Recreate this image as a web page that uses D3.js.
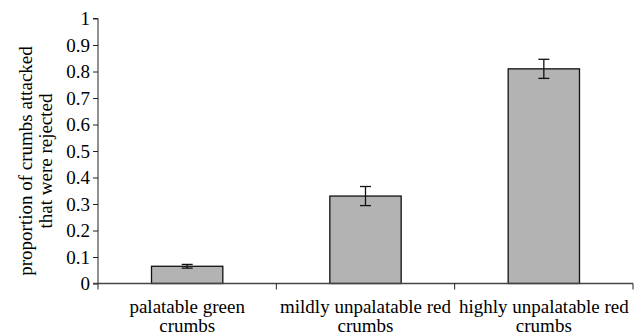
<!DOCTYPE html>
<html>
<head>
<meta charset="utf-8">
<script src="https://cdnjs.cloudflare.com/ajax/libs/d3/7.8.5/d3.min.js"></script>
<style>
body { margin: 0; background: #fff; }
#vis { width: 642px; height: 336px; }
</style>
</head>
<body>
<div id="vis"></div>
<script>
var categories = ['palatable green crumbs', 'mildly unpalatable red crumbs', 'highly unpalatable red crumbs'];
var label_lines = [['palatable green', 'crumbs'], ['mildly unpalatable red', 'crumbs'], ['highly unpalatable red', 'crumbs']];
var values = [0.065, 0.33, 0.81];
var errors = [0.007, 0.036, 0.036];
var y_ticks = [0, 0.1, 0.2, 0.3, 0.4, 0.5, 0.6, 0.7, 0.8, 0.9, 1];

var font = "Liberation Serif, DejaVu Serif, serif";
var font_size = '19px';

var width = 642, height = 336;
var margin = { top: 18.5, bottom: 52.5, left: 98, right: 9 };

var svg = d3.select('#vis')
    .append('svg')
    .attr('width', width)
    .attr('height', height)
    .append('g')
    .attr('transform', 'translate(' + margin.left + ',' + margin.top + ')');

width = width - margin.left - margin.right;
height = height - margin.top - margin.bottom;

// band scale for the bars (gap width like excel's 150%)
var x_scale = d3.scaleBand()
    .domain(categories)
    .range([0, width])
    .paddingInner(0.6)
    .paddingOuter(0.3);

// category cells for the boundary ticks
var x_cell = d3.scaleBand()
    .domain(categories)
    .range([0, width])
    .padding(0);

var y_scale = d3.scaleLinear()
    .domain([0, 1])
    .range([height, 0]);

// y axis
var y_axis = d3.axisLeft(y_scale)
    .tickValues(y_ticks)
    .tickFormat(d3.format('~g'))
    .tickSize(5)
    .tickPadding(3);

var gy = svg.append('g')
    .attr('class', 'y axis')
    .call(y_axis);
gy.attr('font-family', null).attr('font-size', null);
gy.selectAll('text')
    .style('font-family', font)
    .style('font-size', font_size)
    .attr('fill', '#000')
    .attr('dy', '0.34em');
gy.selectAll('line, path').attr('stroke', '#222');
gy.select('.domain').attr('d', 'M0,' + y_scale(1) + 'H-5M0,' + y_scale(1) + 'V' + y_scale(0));

// bars
svg.selectAll('.bar')
    .data(values)
    .enter()
    .append('rect')
    .attr('class', 'bar')
    .attr('x', function (d, i) { return x_scale(categories[i]); })
    .attr('width', x_scale.bandwidth())
    .attr('y', function (d) { return y_scale(d); })
    .attr('height', function (d) { return height - y_scale(d); })
    .attr('fill', '#b3b3b3')
    .attr('stroke', '#111')
    .attr('stroke-width', 1.3);

// error bars
var err = svg.selectAll('.err')
    .data(values)
    .enter()
    .append('g')
    .attr('class', 'err')
    .attr('stroke', '#111')
    .attr('stroke-width', 1.3);

err.append('line')
    .attr('x1', function (d, i) { return x_scale(categories[i]) + x_scale.bandwidth() / 2; })
    .attr('x2', function (d, i) { return x_scale(categories[i]) + x_scale.bandwidth() / 2; })
    .attr('y1', function (d, i) { return y_scale(d + errors[i]); })
    .attr('y2', function (d, i) { return y_scale(d - errors[i]); });

[1, -1].forEach(function (s) {
    err.append('line')
        .attr('x1', function (d, i) { return x_scale(categories[i]) + x_scale.bandwidth() / 2 - 5.5; })
        .attr('x2', function (d, i) { return x_scale(categories[i]) + x_scale.bandwidth() / 2 + 5.5; })
        .attr('y1', function (d, i) { return y_scale(d + s * errors[i]); })
        .attr('y2', function (d, i) { return y_scale(d + s * errors[i]); });
});

// x axis
var x_axis = d3.axisBottom(x_scale).tickSize(0).tickFormat('');
var gx = svg.append('g')
    .attr('class', 'x axis')
    .attr('transform', 'translate(0,' + height + ')')
    .call(x_axis);
gx.attr('font-family', null).attr('font-size', null);
gx.select('.domain').attr('stroke', '#444').attr('stroke-width', 1.3).attr('d', 'M-5,0H' + width);

var bounds = categories.map(function (c) { return x_cell(c); }).concat([width]);
gx.selectAll('.bound')
    .data(bounds)
    .enter()
    .append('line')
    .attr('class', 'bound')
    .attr('x1', function (d) { return d; })
    .attr('x2', function (d) { return d; })
    .attr('y1', 0)
    .attr('y2', 6)
    .attr('stroke', '#222');

var labels = gx.selectAll('.lab')
    .data(label_lines)
    .enter()
    .append('text')
    .attr('class', 'lab')
    .attr('text-anchor', 'middle')
    .style('font-family', font)
    .style('font-size', font_size)
    .attr('fill', '#000')
    .attr('transform', function (d, i) {
        return 'translate(' + (x_cell(categories[i]) + x_cell.bandwidth() / 2) + ',0)';
    });

labels.selectAll('tspan')
    .data(function (d) { return d; })
    .enter()
    .append('tspan')
    .attr('x', 0)
    .attr('y', function (d, i) { return 29 + i * 19; })
    .text(function (d) { return d; });

// y axis title
var title = svg.append('text')
    .attr('text-anchor', 'middle')
    .style('font-family', font)
    .style('font-size', font_size)
    .attr('fill', '#000')
    .attr('transform', 'translate(' + (32 - margin.left) + ',' + (161 - margin.top) + ') rotate(-90)');
title.append('tspan').attr('x', 0).attr('y', 0).text('proportion of crumbs attacked');
title.append('tspan').attr('x', 0).attr('y', 20).text('that were rejected');
</script>
</body>
</html>
